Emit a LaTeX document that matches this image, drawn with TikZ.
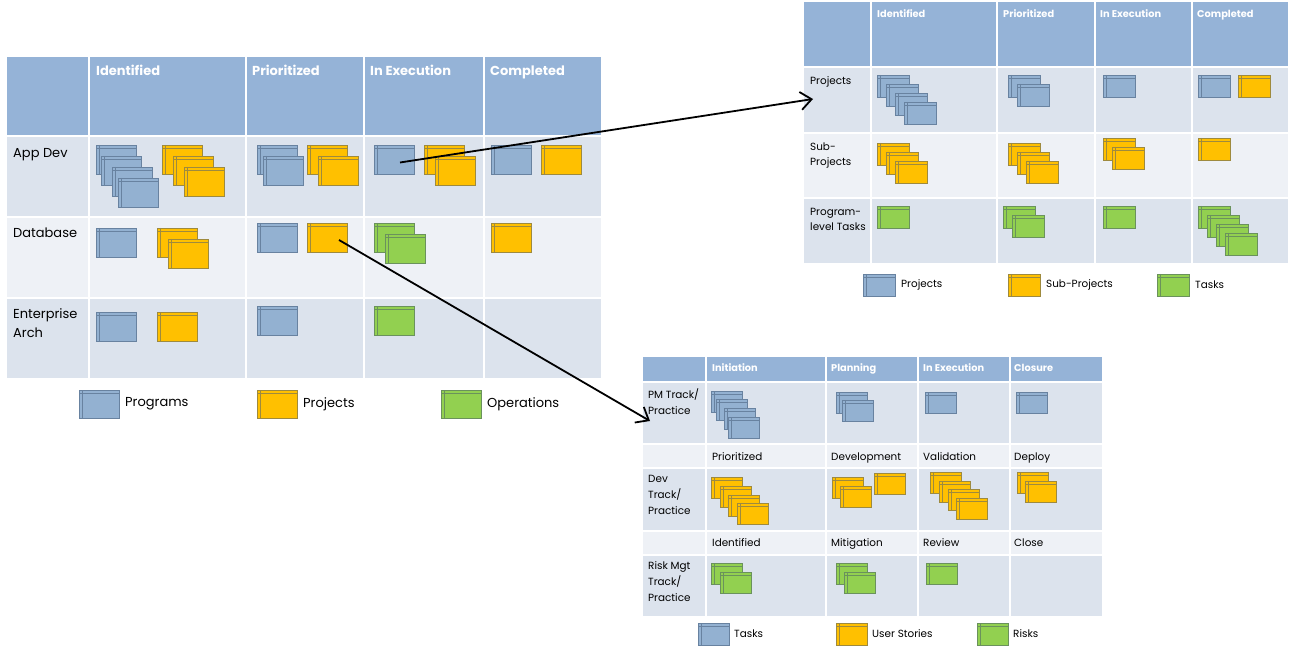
\documentclass[tikz,border=0pt]{standalone}
\usepackage{fontspec}
\setmainfont{Poppins}
\usetikzlibrary{arrows.meta,positioning,calc}
\definecolor{hdblue}{RGB}{149,179,215}
\definecolor{rowdark}{RGB}{220,227,237}
\definecolor{rowlight}{RGB}{238,241,246}
\definecolor{cdblue}{RGB}{147,177,209}
\definecolor{cdblueln}{RGB}{104,130,160}
\definecolor{cdyellow}{RGB}{255,192,0}
\definecolor{cdyellowln}{RGB}{158,138,62}
\definecolor{cdgreen}{RGB}{146,208,80}
\definecolor{cdgreenln}{RGB}{106,146,92}
\newcommand{\cardstack}[3]{\foreach \x/\y [count=\i] in {#3} \node[#2] (#1-\i) at (\x,\y) {};}

\begin{document}
\begin{tikzpicture}[x=1pt, y=-1pt,
  card/.style={anchor=north west, inner sep=0pt, outer sep=0pt, line width=0.9pt,
    draw=cd#1ln, fill=cd#1,
    path picture={\draw[cd#1ln, line width=0.8pt]
      ([xshift=3.5pt]path picture bounding box.north west) -- ([xshift=3.5pt]path picture bounding box.south west)
      ([yshift=-3.5pt]path picture bounding box.north west) -- ([yshift=-3.5pt]path picture bounding box.north east);}},
  bigcard/.style={card=#1, minimum width=40pt, minimum height=29pt},
  smcard/.style={card=#1, minimum width=32pt, minimum height=22pt},
  tinycard/.style={card=#1, minimum width=31pt, minimum height=21pt},
  grid/.style={white, line width=1.5pt},
  lhead/.style={anchor=base west, inner sep=0pt, text=white, font=\bfseries\fontsize{13}{16}\selectfont},
  llab/.style={anchor=base west, inner sep=0pt, align=left, font=\fontsize{13}{19}\selectfont},
  shead/.style={anchor=base west, inner sep=0pt, text=white, font=\bfseries\fontsize{9.8}{12}\selectfont},
  slab/.style={anchor=base west, inner sep=0pt, align=left, font=\fontsize{10.4}{16}\selectfont},
  link/.style={line width=1.8pt, -{Straight Barb[length=11pt,width=18pt]}}]
\useasboundingbox (0,0) rectangle (1290,652);

% portfolio board (left)
\fill[hdblue] (7,57) rectangle (601,136);
\fill[rowdark] (7,136) rectangle (601,217);
\fill[rowlight] (7,217) rectangle (601,298);
\fill[rowdark] (7,298) rectangle (601,378);
\foreach \x in {89,246,364,484} \draw[grid] (\x,57) -- (\x,378);
\foreach \y in {136,217,298} \draw[grid] (7,\y) -- (601,\y);
\foreach \x/\t [count=\i] in {96/Identified,252/Prioritized,370/In Execution,490/Completed}
  \node[lhead] (lh\i) at (\x,76) {\t};
\node[llab] (lr1) at (13,158) {App Dev};
\node[llab] (lr2) at (13,238) {Database};
\node[llab] (lr3) at (13,337) {Enterprise\\Arch};

\cardstack{ad-id-b}{bigcard=blue}{96/145,101/156,112/167,118/178}
\cardstack{ad-id-y}{bigcard=yellow}{162/145,173/156,184/167}
\cardstack{ad-pr-b}{bigcard=blue}{257/145,263/156}
\cardstack{ad-pr-y}{bigcard=yellow}{307/145,318/156}
\cardstack{ad-ex-b}{bigcard=blue}{374/145}
\cardstack{ad-ex-y}{bigcard=yellow}{424/145,435/156}
\cardstack{ad-co-b}{bigcard=blue}{491/145}
\cardstack{ad-co-y}{bigcard=yellow}{541/145}
\cardstack{db-id-b}{bigcard=blue}{96/228}
\cardstack{db-id-y}{bigcard=yellow}{157/228,168/239}
\cardstack{db-pr-b}{bigcard=blue}{257/223}
\cardstack{db-pr-y}{bigcard=yellow}{307/223}
\cardstack{db-ex-g}{bigcard=green}{374/223,385/234}
\cardstack{db-co-y}{bigcard=yellow}{491/223}
\cardstack{ea-id-b}{bigcard=blue}{96/312}
\cardstack{ea-id-y}{bigcard=yellow}{157/312}
\cardstack{ea-pr-b}{bigcard=blue}{257/306}
\cardstack{ea-ex-g}{bigcard=green}{374/306}

\node[bigcard=blue, minimum height=28pt] (lk1) at (79,390) {};
\node[llab, anchor=west, right=6pt of lk1] (lt1) {Programs};
\node[bigcard=yellow, minimum height=28pt] (lk2) at (257,390) {};
\node[llab, anchor=west, right=6pt of lk2] (lt2) {Projects};
\node[bigcard=green, minimum height=28pt] (lk3) at (441,390) {};
\node[llab, anchor=west, right=6pt of lk3] (lt3) {Operations};

% program board (top right)
\fill[hdblue] (804,2) rectangle (1288,67);
\fill[rowdark] (804,67) rectangle (1288,133);
\fill[rowlight] (804,133) rectangle (1288,198);
\fill[rowdark] (804,198) rectangle (1288,263);
\foreach \x in {871,997,1095,1192} \draw[grid] (\x,2) -- (\x,263);
\foreach \y in {67,133,198} \draw[grid] (804,\y) -- (1288,\y);
\foreach \x/\t [count=\i] in {877/Identified,1003/Prioritized,1100/In Execution,1197/Completed}
  \node[shead] (th\i) at (\x,18) {\t};
\node[slab] (tr1) at (810,85) {Projects};
\node[slab, font=\fontsize{10.4}{15.5}\selectfont] (tr2) at (810,166) {Sub-\\Projects};
\node[slab, font=\fontsize{10.4}{15.5}\selectfont] (tr3) at (810,231) {Program-\\level Tasks};

\cardstack{pj-id}{smcard=blue}{877/75,886/84,895/93,904/102}
\cardstack{pj-pr}{smcard=blue}{1008/75,1017/84}
\cardstack{pj-ex}{smcard=blue}{1103/75}
\cardstack{pj-co-b}{smcard=blue}{1198/75}
\cardstack{pj-co-y}{smcard=yellow}{1238/75}
\cardstack{sp-id}{smcard=yellow}{877/143,886/152,895/161}
\cardstack{sp-pr}{smcard=yellow}{1008/143,1017/152,1026/161}
\cardstack{sp-ex}{smcard=yellow}{1103/138,1112/147}
\cardstack{sp-co}{smcard=yellow}{1198/138}
\cardstack{tk-id}{smcard=green}{877/206}
\cardstack{tk-pr}{smcard=green}{1003/206,1012/215}
\cardstack{tk-ex}{smcard=green}{1103/206}
\cardstack{tk-co}{smcard=green}{1198/206,1207/215,1216/224,1225/233}

\node[smcard=blue] (tk1) at (863,274) {};
\node[slab, anchor=west, right=6pt of tk1] (tt1) {Projects};
\node[smcard=yellow] (tk2) at (1008,274) {};
\node[slab, anchor=west, right=6pt of tk2] (tt2) {Sub-Projects};
\node[smcard=green] (tk3) at (1157,274) {};
\node[slab, anchor=west, right=6pt of tk3] (tt3) {Tasks};

% project board (bottom right)
\fill[hdblue] (643,357) rectangle (1102,382);
\fill[rowdark] (643,382) rectangle (1102,444);
\fill[rowlight] (643,444) rectangle (1102,468);
\fill[rowdark] (643,468) rectangle (1102,531);
\fill[rowlight] (643,531) rectangle (1102,555);
\fill[rowdark] (643,555) rectangle (1102,616);
\foreach \x in {706,826,918,1010} \draw[grid] (\x,357) -- (\x,616);
\foreach \y in {382,444,468,531,555} \draw[grid] (643,\y) -- (1102,\y);
\foreach \x/\t [count=\i] in {712/Initiation,831/Planning,923/In Execution,1014/Closure}
  \node[shead] (bh\i) at (\x,371) {\t};
\foreach \x/\t [count=\i] in {712/Prioritized,831/Development,923/Validation,1014/Deploy}
  \node[slab] (bs\i) at (\x,460) {\t};
\foreach \x/\t [count=\i] in {712/Identified,831/Mitigation,923/Review,1014/Close}
  \node[slab] (bq\i) at (\x,546) {\t};
\node[slab] (br1) at (648,414) {PM Track/\\Practice};
\node[slab] (br2) at (648,514) {Dev\\Track/\\Practice};
\node[slab] (br3) at (648,601) {Risk Mgt\\Track/\\Practice};

\cardstack{pm-in}{tinycard=blue}{711/391,716/399,724/408,728/417}
\cardstack{pm-pl}{tinycard=blue}{836/392,842/400}
\cardstack{pm-ex}{tinycard=blue}{925/392}
\cardstack{pm-cl}{tinycard=blue}{1016/392}
\cardstack{dv-pr}{tinycard=yellow}{711/477,720/486,728/495,737/503}
\cardstack{dv-de}{tinycard=yellow}{832/477,840/486,874/473}
\cardstack{dv-va}{tinycard=yellow}{930/472,939/481,948/489,956/498}
\cardstack{dv-dp}{tinycard=yellow}{1017/472,1025/481}
\cardstack{rk-id}{tinycard=green}{711/563,720/572}
\cardstack{rk-mi}{tinycard=green}{836/563,844/572}
\cardstack{rk-re}{tinycard=green}{926/563}

\node[tinycard=blue, minimum height=22pt] (bk1) at (698,623) {};
\node[slab, anchor=west, right=5pt of bk1] (bt1) {Tasks};
\node[tinycard=yellow, minimum height=22pt] (bk2) at (836,623) {};
\node[slab, anchor=west, right=5pt of bk2] (bt2) {User Stories};
\node[tinycard=green, minimum height=22pt] (bk3) at (977,623) {};
\node[slab, anchor=west, right=5pt of bk3] (bt3) {Risks};

% drill-down links
\coordinate (tr-in) at (813,99);
\coordinate (br-in) at (650,421);
\draw[link] ($(ad-ex-b-1.center)+(6,3)$) -- (tr-in);
\draw[link] ($(db-pr-y-1.center)+(12,2.5)$) -- (br-in);
\end{tikzpicture}
\end{document}
